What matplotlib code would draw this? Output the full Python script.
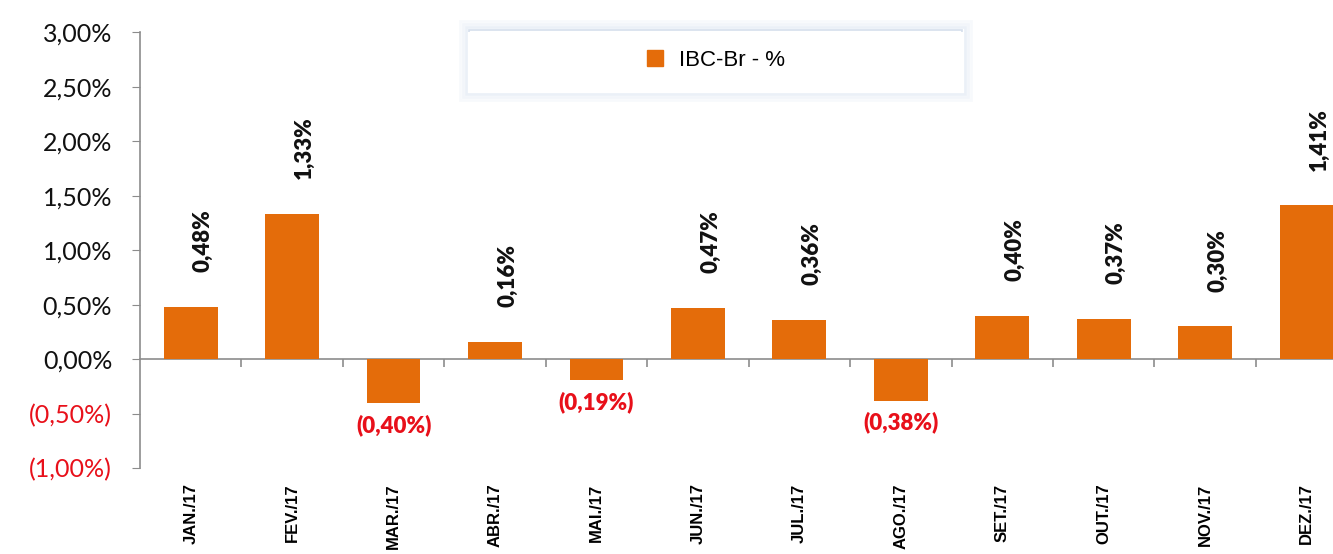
import numpy as np
import matplotlib.pyplot as plt
from matplotlib.patches import Rectangle

plt.rcParams['font.family'] = ['Lato', 'DejaVu Sans']

meses = ['JAN./17', 'FEV./17', 'MAR./17', 'ABR./17', 'MAI./17', 'JUN./17',
         'JUL./17', 'AGO./17', 'SET./17', 'OUT./17', 'NOV./17', 'DEZ./17']
ibc_br = [0.48, 1.33, -0.40, 0.16, -0.19, 0.47, 0.36, -0.38, 0.40, 0.37, 0.30, 1.41]
y_ticks = [-1.0, -0.5, 0.0, 0.5, 1.0, 1.5, 2.0, 2.5, 3.0]

orange = '#E46C0A'
grey = '#8c8c8c'
red = '#e8101a'


def fmt_pct(v):
    s = f'{abs(v):.2f}'.replace('.', ',') + '%'
    return f'({s})' if v < 0 else s


fig = plt.figure(figsize=(13.33, 5.54), dpi=100)
ax = fig.add_axes([0.105, 0.155, 0.895, 0.787])

x = np.arange(len(meses))
ax.bar(x, ibc_br, width=0.53, color=orange, zorder=3)

ax.set_xlim(-0.5, 11.26)
ax.set_ylim(-1.0, 3.0)

# eixo y
ax.set_yticks(y_ticks)
ax.set_yticklabels([fmt_pct(v) for v in y_ticks], fontsize=18)
for lbl, v in zip(ax.get_yticklabels(), y_ticks):
    lbl.set_color(red if v < 0 else '#111111')
ax.tick_params(axis='y', direction='out', length=6, color=grey, pad=14)

for s in ['top', 'right', 'bottom']:
    ax.spines[s].set_visible(False)
ax.spines['left'].set_color(grey)
ax.spines['left'].set_linewidth(1.2)

# meses embaixo
ax.set_xticks(x)
ax.set_xticklabels(meses, rotation=90, fontsize=12, fontweight='bold',
                   family=['Liberation Sans', 'DejaVu Sans'], va='top')
ax.tick_params(axis='x', length=0, pad=11)

# linha do zero com ticks entre as categorias
zero_frac = (0 - y_ticks[0]) / (y_ticks[-1] - y_ticks[0])
sec = ax.secondary_xaxis(zero_frac)
sec.set_xticks(x[:-1] + 0.5)
sec.set_xticklabels([])
sec.tick_params(axis='x', direction='out', length=6, color=grey, width=1.2)
sec.spines['bottom'].set_color(grey)
sec.spines['bottom'].set_linewidth(1.2)

# rotulos de dados
for xi, v in zip(x, ibc_br):
    if v >= 0:
        ax.annotate(fmt_pct(v), (xi, v), xytext=(9, 25), textcoords='offset points',
                    rotation=90, ha='center', va='bottom', fontsize=16,
                    fontweight='heavy', color='#111111')
    else:
        ax.annotate(fmt_pct(v), (xi, v), xytext=(0, -8), textcoords='offset points',
                    ha='center', va='top', fontsize=16, fontweight='heavy',
                    color=red)

# caixa da legenda
for i, a in enumerate([0.2, 0.35, 0.55]):
    pad = (3 - i) * 0.0022
    fig.patches.append(Rectangle((0.352 - pad, 0.836 - pad * 2.4), 0.370 + 2 * pad,
                                 0.110 + pad * 4.8, transform=fig.transFigure,
                                 facecolor='none', edgecolor='#dbe5f1', alpha=a, lw=2))
fig.patches.append(Rectangle((0.352, 0.836), 0.370, 0.110, transform=fig.transFigure,
                             facecolor='white', edgecolor='#d5dfec', lw=1.2, zorder=-1))
handle = Rectangle((0, 0), 1, 1, color=orange)
fig.legend([handle], ['IBC-Br - %'], loc='center', bbox_to_anchor=(0.537, 0.891),
           frameon=False, handlelength=0.75, handleheight=0.75, handletextpad=0.7,
           prop={'family': ['Liberation Sans', 'DejaVu Sans'], 'size': 16})

fig.savefig('out.png', dpi=100)
